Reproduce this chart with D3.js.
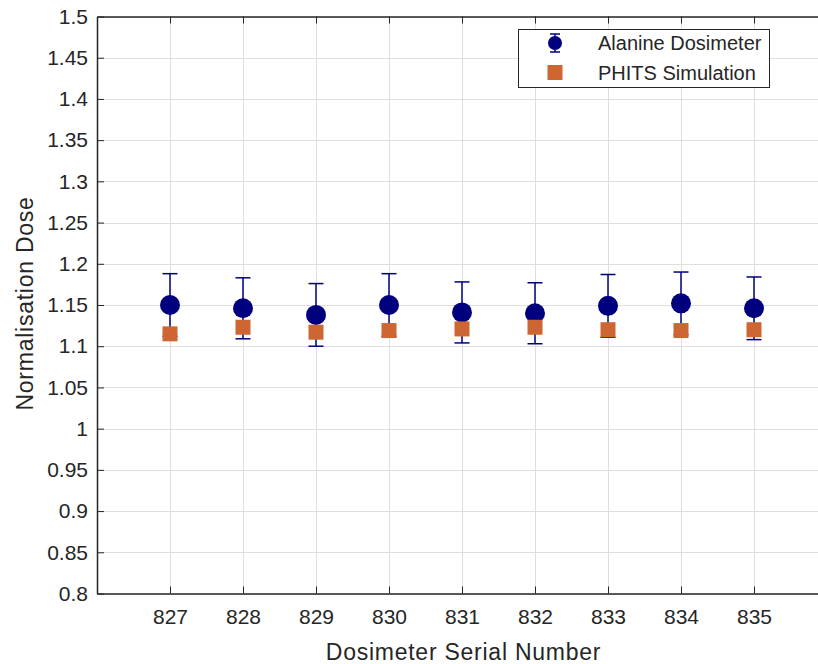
<!DOCTYPE html>
<html>
<head>
<meta charset="utf-8">
<script src="https://cdn.jsdelivr.net/npm/d3@7"></script>
<style>
  body { margin: 0; background: #fff; }
  text { font-family: "Liberation Sans", Arial, sans-serif; fill: #262626; }
</style>
</head>
<body>
<div id="chart"></div>
<script>
(function() {
  "use strict";

  // Dosimeter serial numbers along the x axis
  var serials = [827, 828, 829, 830, 831, 832, 833, 834, 835];
  // Alanine dosimeter readings and their error bars
  var alanine = [1.150, 1.146, 1.138, 1.150, 1.141, 1.140, 1.149, 1.152, 1.146];
  var alanineErr = [0.038, 0.037, 0.038, 0.038, 0.037, 0.037, 0.038, 0.038, 0.038];
  // PHITS simulation values
  var phits = [1.115, 1.123, 1.117, 1.119, 1.121, 1.123, 1.120, 1.119, 1.120];
  // Tick labels
  var yTicks = [0.8, 0.85, 0.9, 0.95, 1, 1.05, 1.1, 1.15, 1.2, 1.25, 1.3, 1.35, 1.4, 1.45, 1.5];

  var WIDTH = 818, HEIGHT = 664;
  var NAVY = '#00007f', ORANGE = '#cd6632', AXIS = '#262626';

  var margin = { left: 97, top: 16.5, right: 827, bottom: 593.5 };

  var svg = d3.select('#chart')
      .append('svg')
      .attr('width', WIDTH)
      .attr('height', HEIGHT);

  var x = d3.scaleLinear().domain([826, 836]).range([margin.left, margin.right]);
  var y = d3.scaleLinear().domain([0.8, 1.5]).range([margin.bottom, margin.top]);

  // Grid lines
  var grid = svg.append('g').attr('stroke', '#dedede').attr('stroke-width', 1);
  serials.forEach(function(s) {
    grid.append('line')
      .attr('x1', Math.round(x(s)) + 0.5).attr('x2', Math.round(x(s)) + 0.5)
      .attr('y1', margin.top).attr('y2', margin.bottom);
  });
  yTicks.forEach(function(t) {
    grid.append('line')
      .attr('x1', margin.left).attr('x2', margin.right)
      .attr('y1', Math.round(y(t)) + 0.5).attr('y2', Math.round(y(t)) + 0.5);
  });

  // Axes: ticks point inward, box on all four sides
  svg.append('g')
    .attr('transform', 'translate(0,' + margin.bottom + ')')
    .call(d3.axisBottom(x).tickValues(serials).tickSizeInner(-7).tickSizeOuter(0).tickPadding(16))
    .call(styleAxis);
  svg.append('g')
    .attr('transform', 'translate(0,' + margin.top + ')')
    .call(d3.axisTop(x).tickValues(serials).tickSizeInner(-7).tickSizeOuter(0).tickFormat(''))
    .call(styleAxis);
  svg.append('g')
    .attr('transform', 'translate(' + margin.left + ',0)')
    .call(d3.axisLeft(y).tickValues(yTicks).tickSizeInner(-7).tickSizeOuter(0).tickPadding(9).tickFormat(d3.format('')))
    .call(styleAxis);
  svg.append('g')
    .attr('transform', 'translate(' + margin.right + ',0)')
    .call(d3.axisRight(y).tickValues(yTicks).tickSizeInner(-7).tickSizeOuter(0).tickFormat(''))
    .call(styleAxis);

  function styleAxis(g) {
    g.select('.domain').attr('stroke', AXIS).attr('stroke-width', 1.5);
    g.selectAll('.tick line').attr('stroke', AXIS).attr('stroke-width', 1);
    g.selectAll('.tick text')
      .attr('font-size', 21)
      .attr('font-family', '"Liberation Sans", Arial, sans-serif')
      .attr('fill', AXIS);
  }

  // Error bars for the alanine readings
  var capHalf = 7.5;
  var bars = svg.append('g').attr('stroke', NAVY).attr('stroke-width', 1.5);
  serials.forEach(function(s, i) {
    var cx = x(s), lo = y(alanine[i] - alanineErr[i]), hi = y(alanine[i] + alanineErr[i]);
    bars.append('line').attr('x1', cx).attr('x2', cx).attr('y1', lo).attr('y2', hi);
    bars.append('line').attr('x1', cx - capHalf).attr('x2', cx + capHalf).attr('y1', lo).attr('y2', lo);
    bars.append('line').attr('x1', cx - capHalf).attr('x2', cx + capHalf).attr('y1', hi).attr('y2', hi);
  });

  svg.append('g').selectAll('circle')
    .data(alanine)
    .join('circle')
    .attr('cx', function(d, i) { return x(serials[i]); })
    .attr('cy', function(d) { return y(d); })
    .attr('r', 10)
    .attr('fill', NAVY);

  // PHITS squares sit on top of the error bars
  var sq = 15;
  svg.append('g').selectAll('rect')
    .data(phits)
    .join('rect')
    .attr('x', function(d, i) { return x(serials[i]) - sq / 2; })
    .attr('y', function(d) { return y(d) - sq / 2; })
    .attr('width', sq)
    .attr('height', sq)
    .attr('fill', ORANGE);

  // Axis titles
  svg.append('text')
    .attr('x', 463.5).attr('y', 660)
    .attr('text-anchor', 'middle')
    .attr('font-size', 23)
    .attr('letter-spacing', 0.75)
    .text('Dosimeter Serial Number');
  svg.append('text')
    .attr('transform', 'translate(33,303.5) rotate(-90)')
    .attr('text-anchor', 'middle')
    .attr('font-size', 23)
    .attr('letter-spacing', 0.75)
    .text('Normalisation Dose');

  drawLegend();

  /**
   * Draws the boxed legend in the top right corner of the axes.
   */
  function drawLegend() {
    var legend = svg.append('g');
    legend.append('rect')
      .attr('x', 518.5).attr('y', 29.5)
      .attr('width', 251).attr('height', 58)
      .attr('fill', '#fff')
      .attr('stroke', AXIS)
      .attr('stroke-width', 1);

    var mx = 555, y1 = 43, y2 = 72.5;
    legend.append('line').attr('x1', mx).attr('x2', mx).attr('y1', y1 - 9).attr('y2', y1 + 9)
      .attr('stroke', NAVY).attr('stroke-width', 1.5);
    [y1 - 9, y1 + 9].forEach(function(cy) {
      legend.append('line').attr('x1', mx - 5).attr('x2', mx + 5).attr('y1', cy).attr('y2', cy)
        .attr('stroke', NAVY).attr('stroke-width', 1.5);
    });
    legend.append('circle').attr('cx', mx).attr('cy', y1).attr('r', 7).attr('fill', NAVY);
    legend.append('rect').attr('x', mx - 7.5).attr('y', y2 - 7.5).attr('width', 15).attr('height', 15)
      .attr('fill', ORANGE);

    legend.append('text').attr('x', 598).attr('y', y1 + 7).attr('font-size', 20).text('Alanine Dosimeter');
    legend.append('text').attr('x', 598).attr('y', y2 + 7).attr('font-size', 20).text('PHITS Simulation');
  }
})();
</script>
</body>
</html>
